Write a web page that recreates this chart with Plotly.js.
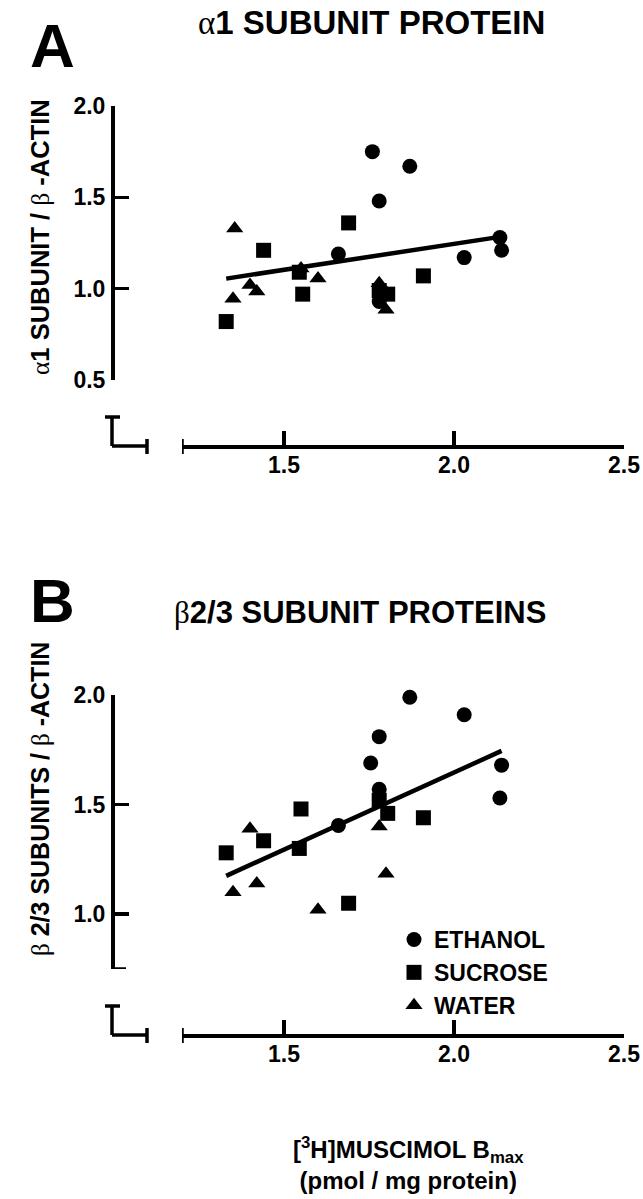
<!DOCTYPE html>
<html><head><meta charset="utf-8">
<script src="https://cdn.plot.ly/plotly-3.0.1.min.js"></script>
<style>html,body{margin:0;padding:0;background:#fff;} #chart{width:643px;height:1199px;}</style>
</head><body><div id="chart"></div>
<script>
// ---------- data ----------
const xTickVals = [1.5, 2.0, 2.5];
const xTickText = ['1.5', '2.0', '2.5'];
const yTickValsA = [0.5, 1.0, 1.5, 2.0];
const yTickTextA = ['0.5', '1.0', '1.5', '2.0'];
const yTickValsB = [1.0, 1.5, 2.0];
const yTickTextB = ['1.0', '1.5', '2.0'];
const yRangeA = [0.5, 2.0];
const yRangeB = [0.75, 2.0];
const xRange = [1.2, 2.5];
const seriesNames = ['ETHANOL', 'SUCROSE', 'WATER'];

// Panel A : alpha1 subunit / beta-actin
const ethanolX_A = [1.66, 1.76, 1.78, 1.78, 1.87, 2.03, 2.135, 2.14];
const ethanolY_A = [1.19, 1.75, 1.48, 0.93, 1.67, 1.17, 1.28, 1.21];
const sucroseX_A = [1.33, 1.44, 1.545, 1.555, 1.69, 1.78, 1.805, 1.91];
const sucroseY_A = [0.82, 1.21, 1.09, 0.97, 1.36, 0.99, 0.97, 1.07];
const waterX_A = [1.355, 1.35, 1.40, 1.42, 1.55, 1.60, 1.78, 1.80];
const waterY_A = [1.33, 0.945, 1.02, 0.985, 1.11, 1.055, 1.03, 0.885];
const fitX_A = [1.33, 2.14];
const fitY_A = [1.055, 1.285];

// Panel B : beta2/3 subunits / beta-actin
const ethanolX_B = [1.66, 1.755, 1.78, 1.78, 1.87, 2.03, 2.14, 2.135];
const ethanolY_B = [1.405, 1.69, 1.81, 1.57, 1.99, 1.91, 1.68, 1.53];
const sucroseX_B = [1.33, 1.44, 1.545, 1.55, 1.69, 1.78, 1.805, 1.91];
const sucroseY_B = [1.28, 1.335, 1.30, 1.48, 1.05, 1.52, 1.46, 1.44];
const waterX_B = [1.35, 1.40, 1.42, 1.60, 1.78, 1.80];
const waterY_B = [1.10, 1.39, 1.14, 1.02, 1.40, 1.185];
const fitX_B = [1.33, 2.14];
const fitY_B = [1.175, 1.745];

// ---------- layout helpers ----------
const W = 643, H = 1199;
const px = v => v / W;
const py = v => 1 - v / H;
const FONT = 'Liberation Sans, Arial, Helvetica, sans-serif';
const GREEK = s => '<span style="font-family:\'Liberation Serif\',serif;font-weight:normal">' + s + '</span>';
const LW = 3.5;
const TICKFONT = {family: FONT, size: 23, color: '#000', weight: 'bold'};

const markerBase = {color: '#000', line: {width: 0}};
function pts(x, y, sym, size, name, xa, ya, show) {
  return {type: 'scatter', mode: 'markers', x: x, y: y, name: name, xaxis: xa, yaxis: ya,
    showlegend: show, cliponaxis: false,
    marker: Object.assign({symbol: sym, size: size}, markerBase)};
}
function fit(x, y, xa, ya) {
  return {type: 'scatter', mode: 'lines', x: x, y: y, xaxis: xa, yaxis: ya, showlegend: false,
    line: {color: '#000', width: 4.5}, hoverinfo: 'skip'};
}

const traces = [
  fit(fitX_A, fitY_A, 'x', 'y'),
  pts(ethanolX_A, ethanolY_A, 'circle', 15, seriesNames[0], 'x', 'y', false),
  pts(sucroseX_A, sucroseY_A, 'square', 15, seriesNames[1], 'x', 'y', false),
  pts(waterX_A, waterY_A, 'triangle-up', 15, seriesNames[2], 'x', 'y', false),
  fit(fitX_B, fitY_B, 'x2', 'y2'),
  pts(ethanolX_B, ethanolY_B, 'circle', 15, seriesNames[0], 'x2', 'y2', true),
  pts(sucroseX_B, sucroseY_B, 'square', 15, seriesNames[1], 'x2', 'y2', true),
  pts(waterX_B, waterY_B, 'triangle-up', 15, seriesNames[2], 'x2', 'y2', true)
];

function xAxis(posPx) {
  return {domain: [px(182), px(624)], range: xRange, anchor: 'free', position: py(posPx),
    showline: true, linewidth: LW, linecolor: '#000', ticks: 'inside', ticklen: 14, tickwidth: LW,
    tickcolor: '#000', tickmode: 'array', tickvals: xTickVals, ticktext: xTickText,
    showgrid: false, zeroline: false, ticklabelstandoff: -3,
    tickfont: TICKFONT, fixedrange: true};
}
function yAxis(topPx, botPx, range, vals, text) {
  return {domain: [py(botPx), py(topPx)], range: range, anchor: 'free', position: px(112),
    showline: true, linewidth: LW, linecolor: '#000', ticks: 'inside', ticklen: 14, tickwidth: LW,
    tickcolor: '#000', tickmode: 'array', tickvals: vals, ticktext: text,
    showgrid: false, zeroline: false, ticklabelstandoff: 1,
    tickfont: TICKFONT, fixedrange: true};
}

function seg(x0, y0, x1, y1) {
  return {type: 'line', xref: 'paper', yref: 'paper', x0: px(x0), y0: py(y0), x1: px(x1), y1: py(y1),
    line: {color: '#000', width: LW}};
}
function axisBreak(axisY, xref) {
  return [
    seg(112, axisY - 29, 112, axisY),
    seg(105, axisY - 29, 120, axisY - 29),
    seg(112, axisY, 147, axisY),
    seg(147, axisY - 7, 147, axisY + 8),
    {type: 'line', xref: xref, yref: 'paper', x0: xRange[0], x1: xRange[0], y0: py(axisY - 7), y1: py(axisY + 8),
     line: {color: '#000', width: LW}}
  ];
}
// unlabeled end tick at the bottom of the panel-B y axis
const endTickB = {type: 'line', xref: 'paper', yref: 'y2', x0: px(112), x1: px(126),
  y0: yRangeB[0], y1: yRangeB[0], line: {color: '#000', width: LW}};

function ann(text, xPx, yPx, size, opts) {
  return Object.assign({text: text, xref: 'paper', yref: 'paper', x: px(xPx), y: py(yPx),
    showarrow: false, xanchor: 'left', yanchor: 'middle',
    font: {family: FONT, size: size, color: '#000', weight: 'bold'}}, opts || {});
}

const layout = {
  width: W, height: H, margin: {l: 0, r: 0, t: 0, b: 0},
  paper_bgcolor: '#fff', plot_bgcolor: 'rgba(0,0,0,0)',
  font: {family: FONT, size: 21, color: '#000', weight: 'bold'},
  xaxis: xAxis(446),
  yaxis: yAxis(106, 380, yRangeA, yTickValsA, yTickTextA),
  xaxis2: xAxis(1035),
  yaxis2: yAxis(695, 969, yRangeB, yTickValsB, yTickTextB),
  showlegend: true,
  legend: {x: px(394), y: py(918), xanchor: 'left', yanchor: 'top', bgcolor: 'rgba(0,0,0,0)',
    font: {family: FONT, size: 23, color: '#000', weight: 'bold'}, itemwidth: 30, tracegroupgap: 0},
  shapes: [].concat(axisBreak(446, 'x'), axisBreak(1035, 'x2'), [endTickB]),
  annotations: [
    ann('A', 28, 46, 62),
    ann('B', 28, 600, 62),
    ann(GREEK('α') + '1 SUBUNIT PROTEIN', 196, 23, 33),
    ann(GREEK('β') + '2/3 SUBUNIT PROTEINS', 172, 612, 31),
    ann(GREEK('α') + '1 SUBUNIT / ' + GREEK('β') + ' -ACTIN', 40, 237, 25.5, {textangle: -90, xanchor: 'center'}),
    ann(GREEK('β') + ' 2/3 SUBUNITS / ' + GREEK('β') + ' -ACTIN', 40, 799, 25, {textangle: -90, xanchor: 'center'}),
    ann('[<sup>3</sup>H]MUSCIMOL B<sub>max</sub><br>(pmol / mg protein)', 408, 1163, 24, {xanchor: 'center', align: 'center'})
  ]
};

Plotly.newPlot('chart', traces, layout, {staticPlot: true, displayModeBar: false});
</script>
</body></html>
